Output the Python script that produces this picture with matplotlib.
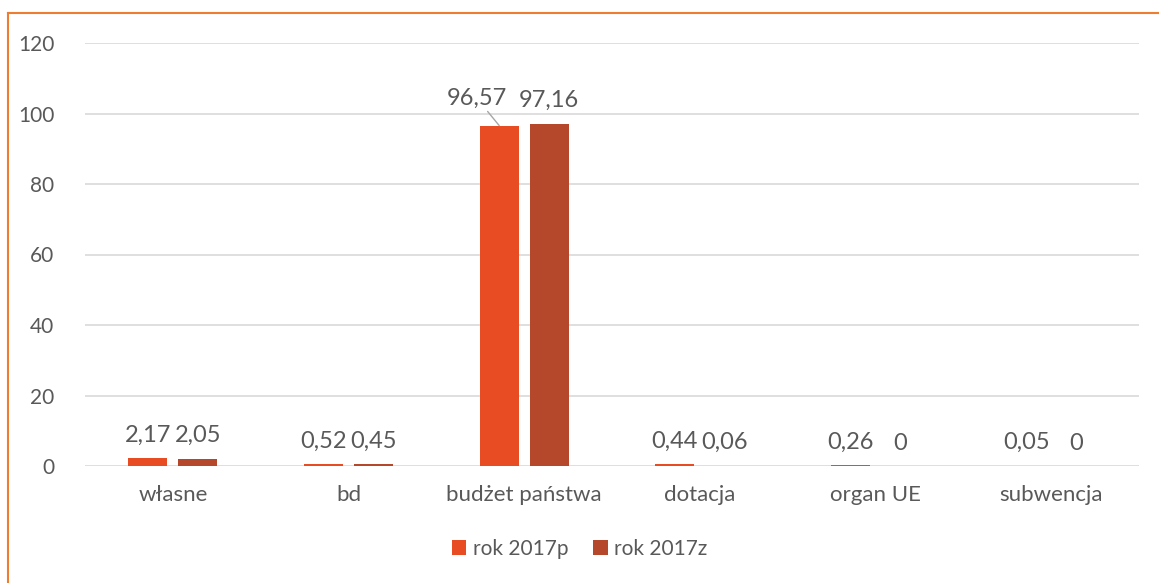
import matplotlib
matplotlib.use("Agg")
import matplotlib.pyplot as plt
import numpy as np
from matplotlib.lines import Line2D

categories = ["własne", "bd", "budżet państwa", "dotacja", "organ UE", "subwencja"]
series_names = ["rok 2017p", "rok 2017z"]
vals_p = [2.17, 0.52, 96.57, 0.44, 0.26, 0.05]
vals_z = [2.05, 0.45, 97.16, 0.06, 0, 0]
yticks = [0, 20, 40, 60, 80, 100, 120]

col_p = "#E84C22"
col_z = "#B5472A"
txt = "#595959"

plt.rcParams['font.family'] = ['Lato', 'DejaVu Sans']

fig = plt.figure(figsize=(11.59, 5.83), dpi=100)
ax = fig.add_axes([85/1159, 1-466/583, (1139-85)/1159, (466-43)/583])

x = np.arange(len(categories))
w = 0.222
off = 0.142
b1 = ax.bar(x - off, vals_p, w, color=col_p, label=series_names[0], zorder=3)
b2 = ax.bar(x + off, vals_z, w, color=col_z, label=series_names[1], zorder=3)

def fmt(v):
    s = ("%.2f" % v).rstrip('0').rstrip('.') if v != 0 else "0"
    return s.replace('.', ',')

LFS = 17
for i in range(len(categories)):
    for xs, v in ((x[i] - off, vals_p[i]), (x[i] + off, vals_z[i])):
        if i == 2 and xs < x[i]:
            ax.annotate(fmt(v), xy=(xs, v), xytext=(xs - 0.128, v + 4.8),
                        ha='center', va='bottom', fontsize=LFS, color=txt,
                        arrowprops=dict(arrowstyle='-', color='#A6A6A6', lw=1,
                                        shrinkA=0, shrinkB=0),
                        zorder=4)
        else:
            ax.annotate(fmt(v), xy=(xs, v), xytext=(0, 9), textcoords='offset points',
                        ha='center', va='bottom', fontsize=LFS, color=txt, zorder=4)

ax.set_xlim(-0.5, len(categories) - 0.5)
ax.set_ylim(0, 120)
ax.set_yticks(yticks)
ax.set_yticklabels([str(t) for t in yticks])
ax.set_xticks(x)
ax.set_xticklabels(categories)
ax.grid(axis='y', color='#D9D9D9', lw=1.2, zorder=0)
ax.set_axisbelow(True)
for s in ax.spines.values():
    s.set_visible(False)
ax.tick_params(axis='both', length=0, colors=txt)
ax.tick_params(axis='y', pad=22, labelsize=15)
ax.tick_params(axis='x', pad=14, labelsize=16)

leg = fig.legend(handles=[b1, b2], labels=series_names, loc='center',
                 bbox_to_anchor=(0.5, 1-549/583), ncol=2, frameon=False,
                 fontsize=15, handlelength=0.7, handleheight=0.7,
                 handletextpad=0.3, columnspacing=1.2)
for t in leg.get_texts():
    t.set_color(txt)

# orange border on top and left
fig.add_artist(Line2D([8/1159, 1], [1-13/583, 1-13/583], color='#ED7D31', lw=1.5,
                      transform=fig.transFigure))
fig.add_artist(Line2D([8/1159, 8/1159], [0, 1-13/583], color='#ED7D31', lw=1.5,
                      transform=fig.transFigure))

fig.savefig("out.png", dpi=100)
